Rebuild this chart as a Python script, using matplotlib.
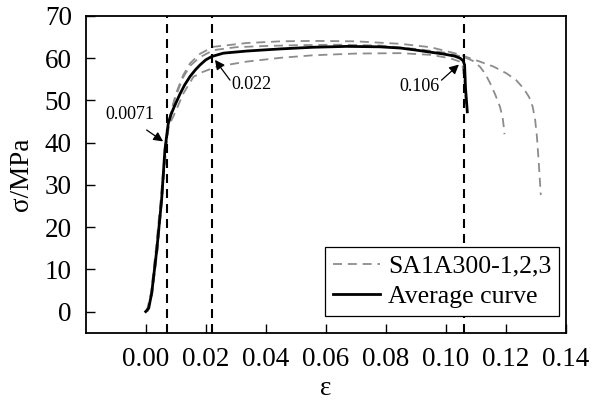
import matplotlib
matplotlib.use("Agg")
import matplotlib.pyplot as plt

plt.rcParams['font.family'] = ['Liberation Serif', 'DejaVu Serif']

# average curve
avg_strain = [0.0, 0.0010, 0.0020, 0.0037, 0.0053, 0.0064, 0.0075, 0.0085, 0.0095, 0.0114,
              0.0130, 0.0148, 0.0165, 0.0181, 0.0200, 0.0220, 0.0259, 0.0337, 0.0448, 0.0559,
              0.0670, 0.0780, 0.0850, 0.0903, 0.0992, 0.1030, 0.1048, 0.1058, 0.1063, 0.1066,
              0.1072]
avg_stress = [0.0, 0.8, 4.4, 14.7, 26.5, 38.3, 44.5, 46.8, 48.5, 51.5,
              53.7, 55.7, 57.2, 58.4, 59.6, 60.4, 61.2, 61.7, 62.2, 62.6,
              62.8, 62.7, 62.4, 61.9, 61.0, 60.5, 60.0, 59.4, 58.4, 53.0,
              47.3]

# specimens SA1A300-1,2,3
s1_strain = [0.0003, 0.0018, 0.0035, 0.0052, 0.0065, 0.0080, 0.0100, 0.0125, 0.0148, 0.0180,
             0.0225, 0.0300, 0.0400, 0.0514, 0.0650, 0.0780, 0.0900, 0.1000, 0.1060, 0.1090,
             0.1114, 0.1132, 0.1148, 0.1165, 0.1181, 0.1190, 0.1194, 0.1196]
s1_stress = [0.0, 4.5, 15.5, 28.0, 39.0, 46.0, 51.0, 55.5, 58.2, 60.2,
             61.9, 62.6, 62.9, 63.1, 63.2, 63.0, 62.2, 61.3, 60.3, 59.4,
             58.0, 56.3, 54.1, 51.4, 48.5, 45.8, 43.5, 42.0]

s2_strain = [0.0006, 0.0022, 0.0040, 0.0056, 0.0068, 0.0082, 0.0100, 0.0125, 0.0148, 0.0180,
             0.0225, 0.0337, 0.0450, 0.0559, 0.0700, 0.0850, 0.0950, 0.1040, 0.1114, 0.1160,
             0.1203, 0.1235, 0.1259, 0.1278, 0.1290, 0.1298, 0.1304, 0.1310, 0.1317]
s2_stress = [0.0, 4.5, 15.5, 28.0, 39.0, 46.5, 51.5, 56.0, 58.8, 61.0,
             62.7, 63.6, 64.0, 64.1, 64.0, 63.4, 62.6, 61.0, 59.2, 58.0,
             56.4, 54.8, 52.9, 50.8, 48.5, 45.5, 41.5, 35.5, 27.6]

s3_strain = [0.0005, 0.0020, 0.0040, 0.0058, 0.0068, 0.0075, 0.0092, 0.0126, 0.0159, 0.0192,
             0.0237, 0.0337, 0.0450, 0.0559, 0.0700, 0.0848, 0.0950, 0.1014, 0.1055, 0.1063,
             0.1068]
s3_stress = [0.0, 4.0, 15.0, 30.0, 39.0, 43.8, 46.2, 51.7, 55.6, 56.8,
             58.0, 59.2, 60.1, 60.7, 61.1, 61.2, 60.8, 60.0, 59.0, 54.0,
             48.0]

marks = [0.0071, 0.022, 0.106]
mark_labels = ['0.0071', '0.022', '0.106']
label_pos = [(-0.0052, 46.6), (0.0354, 53.7), (0.0911, 53.3)]
arrow_tail = [(0.0003, 43.0), (0.0281, 54.8), (0.0986, 54.8)]
arrow_tip = [(0.0058, 40.3), (0.0231, 59.6), (0.1044, 58.5)]

fig = plt.figure(figsize=(5.99, 4.12), dpi=100)
ax = fig.add_axes([0.1431, 0.1925, 0.8013, 0.7687])

gray = '#8c8c8c'
for i, (sx, sy) in enumerate([(s1_strain, s1_stress), (s2_strain, s2_stress), (s3_strain, s3_stress)]):
    ax.plot(sx, sy, color=gray, lw=1.3, dashes=(5, 3.2),
            label='SA1A300-1,2,3' if i == 0 else None)
ax.plot(avg_strain, avg_stress, color='black', lw=2.0, label='Average curve')

for m in marks:
    ax.axvline(m, color='black', lw=1.5, dashes=(4.3, 2.9))

for lab, pos, tail, tip in zip(mark_labels, label_pos, arrow_tail, arrow_tip):
    ax.text(pos[0], pos[1], lab, fontsize=13, ha='center', va='center')
    ax.annotate('', xy=tip, xytext=tail,
                arrowprops=dict(arrowstyle='-|>', color='black', lw=0.9, mutation_scale=14,
                                shrinkA=0, shrinkB=0))

ax.set_xlim(-0.02, 0.14)
ax.set_ylim(-5, 70)
ax.set_xticks([0.00, 0.02, 0.04, 0.06, 0.08, 0.10, 0.12, 0.14])
ax.set_xticklabels(['0.00', '0.02', '0.04', '0.06', '0.08', '0.10', '0.12', '0.14'])
ax.set_yticks(range(0, 71, 10))
ax.tick_params(direction='in', length=6.5, width=1.0, labelsize=19.5, pad=10)
for sp in ax.spines.values():
    sp.set_linewidth(1.3)

ax.set_xlabel('ε', fontsize=19.5, labelpad=3)
ax.set_ylabel('σ/MPa', fontsize=19.5, labelpad=8)

leg = ax.legend(loc='lower right', bbox_to_anchor=(0.986, 0.0527), borderaxespad=0,
                fontsize=18.5, handlelength=1.85, handletextpad=0.3, labelspacing=0.3,
                borderpad=0.3, fancybox=False, framealpha=1, edgecolor='black')
leg.get_frame().set_linewidth(0.9)

fig.savefig('out.png', dpi=100)
